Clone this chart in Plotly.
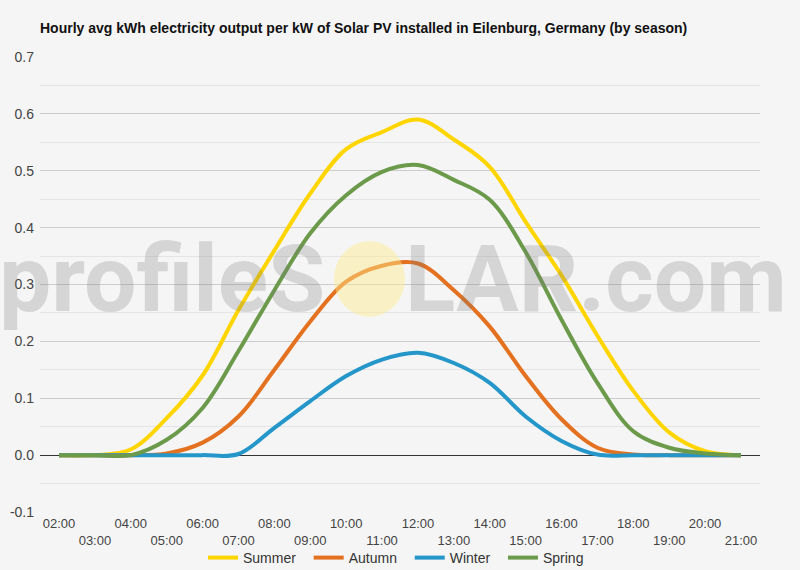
import plotly.graph_objects as go

hours = ["02:00", "03:00", "04:00", "05:00", "06:00", "07:00", "08:00", "09:00", "10:00", "11:00",
         "12:00", "13:00", "14:00", "15:00", "16:00", "17:00", "18:00", "19:00", "20:00", "21:00"]
summer = [0, 0, 0.01, 0.065, 0.14, 0.255, 0.36, 0.46, 0.538, 0.568, 0.59, 0.555, 0.507, 0.41, 0.316, 0.21, 0.113, 0.04, 0.007, 0]
autumn = [0, 0, 0, 0.003, 0.022, 0.068, 0.15, 0.235, 0.305, 0.333, 0.337, 0.29, 0.226, 0.139, 0.063, 0.013, 0.001, 0, 0, 0]
winter = [0, 0, 0, 0, 0, 0.002, 0.048, 0.095, 0.139, 0.168, 0.18, 0.162, 0.127, 0.068, 0.025, 0.001, 0, 0, 0, 0]
spring = [0, 0, 0, 0.027, 0.083, 0.183, 0.29, 0.39, 0.457, 0.498, 0.51, 0.484, 0.449, 0.357, 0.238, 0.127, 0.042, 0.013, 0.003, 0]
y_ticks = [-0.1, 0.0, 0.1, 0.2, 0.3, 0.4, 0.5, 0.6, 0.7]
y_tick_labels = ["-0.1", "0.0", "0.1", "0.2", "0.3", "0.4", "0.5", "0.6", "0.7"]

series = [("Summer", summer, "#FFD500"), ("Autumn", autumn, "#E3711F"),
          ("Winter", winter, "#2496C9"), ("Spring", spring, "#6B9A4B")]

tick_text = [h if i % 2 == 0 else "<br>" + h for i, h in enumerate(hours)]

FONT = "Liberation Sans, Arial, sans-serif"
fig = go.Figure()
for name, vals, col in series:
    fig.add_trace(go.Scatter(x=hours, y=vals, name=name + "\u00a0\u00a0", mode="lines",
                             line=dict(color=col, width=4, shape="spline", smoothing=1.0)))

fig.update_layout(
    width=800, height=570,
    paper_bgcolor="#f5f5f5", plot_bgcolor="#f5f5f5",
    margin=dict(l=40, r=40, t=57, b=58, autoexpand=False),
    font=dict(family=FONT, size=13, color="#444"),
    title=dict(text="<b>Hourly avg kWh electricity output per kW of Solar PV installed in Eilenburg, Germany (by season)</b>",
               x=40 / 800, xanchor="left", y=1 - 28 / 570, yanchor="middle",
               font=dict(family=FONT, size=14, color="#111")),
    showlegend=True,
    legend=dict(orientation="h", x=0.5, xanchor="center", y=(512 - 558) / 455, yanchor="middle",
                font=dict(size=14, color="#333"), bgcolor="rgba(0,0,0,0)", itemwidth=30),
    xaxis=dict(type="category", range=[-0.53, 19.53], showgrid=False, zeroline=False, automargin=False,
               tickmode="array", tickvals=hours, ticktext=tick_text, ticks="", showline=False,
               ticklabelstandoff=2, tickfont=dict(size=13, color="#444")),
    yaxis=dict(range=[-0.1, 0.7], tickmode="array", tickvals=y_ticks, ticktext=y_tick_labels,
               showgrid=True, gridcolor="#cccccc", gridwidth=1, automargin=False,
               zeroline=True, zerolinecolor="#333333", zerolinewidth=1, ticks="", showline=False,
               minor=dict(dtick=0.05, showgrid=True, gridcolor="#e4e4e4", gridwidth=1),
               ticklabelstandoff=5, tickfont=dict(size=14, color="#444")),
)

# watermark
wm_font = dict(family="Roboto, Liberation Sans, sans-serif", size=93,
               weight="bold", color="rgba(120,120,120,0.25)")
fig.add_shape(type="circle", xref="paper", yref="paper", layer="above",
              x0=(334 - 40) / 720, x1=(405 - 40) / 720, y0=1 - (317 - 57) / 455, y1=1 - (241 - 57) / 455,
              fillcolor="rgba(255,238,140,0.45)", line=dict(width=0))
fig.add_annotation(text="profileS", xref="paper", yref="paper", x=(-3 - 40) / 720, xanchor="left",
                   y=1 - (279 - 57) / 455, yanchor="middle", showarrow=False, font=wm_font)
fig.add_annotation(text="LAR.com", xref="paper", yref="paper", x=(403 - 40) / 720, xanchor="left",
                   y=1 - (279 - 57) / 455, yanchor="middle", showarrow=False, font=wm_font)

fig.write_html("out.html", post_script="document.body.style.margin='0';",
               config={"displayModeBar": False})
